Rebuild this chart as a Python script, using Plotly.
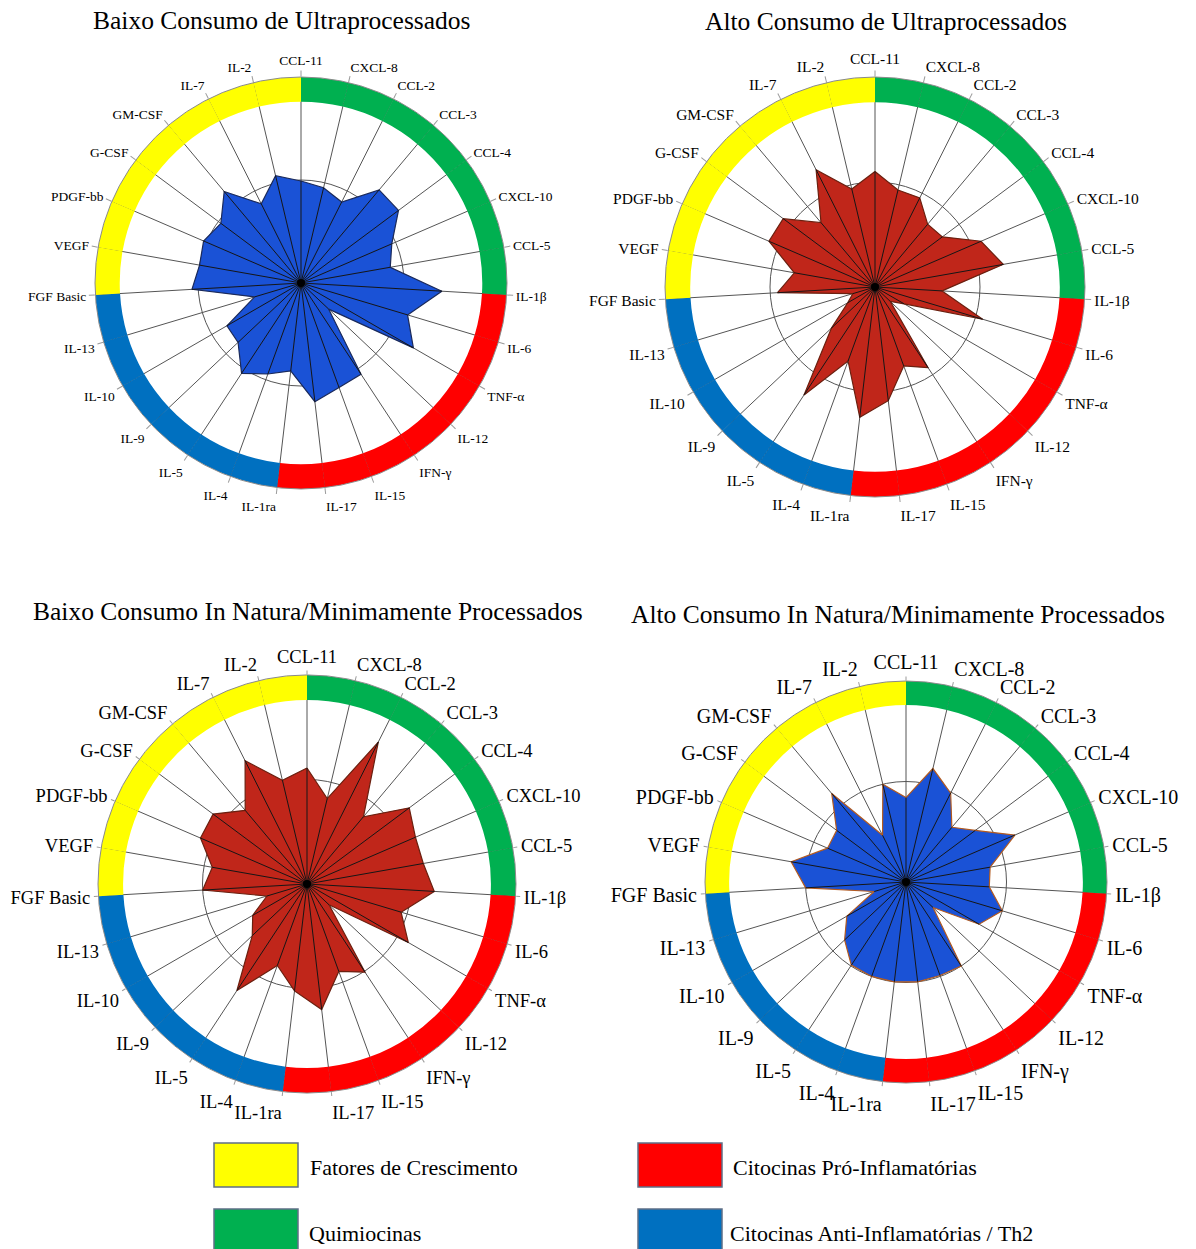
import plotly.graph_objects as go

W, H = 1196, 1249

# Cytokine / chemokine panel, clockwise from the top
labels = ["CCL-11", "CXCL-8", "CCL-2", "CCL-3", "CCL-4", "CXCL-10", "CCL-5",
          "IL-1β", "IL-6", "TNF-α", "IL-12", "IFN-γ", "IL-15", "IL-17",
          "IL-1ra", "IL-4", "IL-5", "IL-9", "IL-10", "IL-13",
          "FGF Basic", "VEGF", "PDGF-bb", "G-CSF", "GM-CSF", "IL-7", "IL-2"]

# functional group of each marker (sets the colour of the outer ring)
groups = (["Quimiocinas"] * 7 + ["Citocinas Pró-Inflamatórias"] * 7 +
          ["Citocinas Anti-Inflamatórias / Th2"] * 6 + ["Fatores de Crescimento"] * 7)

# relative levels per consumption group
baixo_ultra = [0.99, 0.95, 0.88, 1.18, 1.18, 0.96, 0.88, 1.37, 1.08, 1.26, 0.37, 1.06, 1.08, 1.16,
               0.86, 0.94, 1.05, 0.84, 0.83, 0.47, 1.06, 1.00, 1.03, 0.97, 1.16, 0.86, 1.07]
alto_ultra = [1.10, 0.95, 0.95, 0.78, 0.80, 1.10, 1.24, 0.64, 1.07, 0.32, 0.20, 0.92, 0.80, 1.09,
              1.25, 0.75, 1.23, 0.57, 0.30, 0.22, 0.93, 0.78, 1.10, 1.09, 0.80, 1.25, 0.96]
baixo_natura = [1.11, 0.84, 1.52, 0.84, 1.22, 1.13, 1.13, 1.22, 0.94, 1.12, 0.29, 1.01, 0.89, 1.21,
                1.03, 0.83, 1.22, 0.72, 0.60, 0.40, 1.00, 0.92, 1.11, 1.12, 0.92, 1.32, 1.02]
alto_natura = [0.84, 1.16, 0.99, 0.71, 0.86, 1.18, 0.85, 0.83, 1.00, 0.84, 0.37, 1.00, 0.99, 1.00,
               1.00, 1.00, 0.99, 0.84, 0.68, 0.33, 1.00, 1.16, 0.85, 0.86, 1.15, 0.52, 1.00]

group_colors = {
    "Fatores de Crescimento": "#FFFF00",
    "Quimiocinas": "#00B050",
    "Citocinas Pró-Inflamatórias": "#FF0000",
    "Citocinas Anti-Inflamatórias / Th2": "#0070C0",
}
legend_order = ["Fatores de Crescimento", "Citocinas Pró-Inflamatórias",
                "Quimiocinas", "Citocinas Anti-Inflamatórias / Th2"]

n = len(labels)
step = 360.0 / n
angles = [i * step for i in range(n)]
R_MAX = 2.0
RING_IN = 1.76
SERIF = "Liberation Serif, Times New Roman, serif"

# panel settings: title, values, fill, outline, centre (px), radius (px), label size, tick length
panels = [
    dict(title="Baixo Consumo de Ultraprocessados", vals=baixo_ultra, fill="#1A52D6",
         edge="#1b2a5a", cx=301, cy=283, R=206, fs=13.5, tl=6, tx=281, ty=21),
    dict(title="Alto Consumo de Ultraprocessados", vals=alto_ultra, fill="#C0261A",
         edge="#6b2010", cx=875, cy=287, R=210, fs=15.5, tl=6, tx=886, ty=22),
    dict(title="Baixo Consumo In Natura/Minimamente Processados", vals=baixo_natura, fill="#C0261A",
         edge="#6b2010", cx=307, cy=884, R=209, fs=18.5, tl=4, tx=308, ty=611),
    dict(title="Alto Consumo In Natura/Minimamente Processados", vals=alto_natura, fill="#1A52D6",
         edge="#B35A1F", cx=906, cy=882, R=201, fs=20, tl=4, tx=898, ty=614),
]

fig = go.Figure()
layout = {}
annotations = []

for k, p in enumerate(panels):
    name = "polar" if k == 0 else f"polar{k + 1}"
    vals = p["vals"]

    # coloured outer ring, one segment per marker starting at its spoke
    fig.add_trace(go.Barpolar(
        r=[R_MAX - RING_IN] * n, base=[RING_IN] * n,
        theta=[a + step / 2 for a in angles], width=[step] * n,
        marker=dict(color=[group_colors[g] for g in groups], line=dict(width=0)),
        subplot=name, showlegend=False, hoverinfo="skip"))

    # filled profile
    fig.add_trace(go.Scatterpolar(
        r=vals + [vals[0]], theta=angles + [angles[0]],
        mode="lines", fill="toself", fillcolor=p["fill"],
        line=dict(color=p["edge"], width=1.2),
        subplot=name, showlegend=False))

    # spokes drawn over the fill
    sr, st = [], []
    for a, v in zip(angles, vals):
        sr += [0, v, None]
        st += [a, a, None]
    fig.add_trace(go.Scatterpolar(
        r=sr, theta=st, mode="lines", line=dict(color="#161616", width=1),
        subplot=name, showlegend=False, hoverinfo="skip"))

    # hub
    fig.add_trace(go.Scatterpolar(
        r=[0], theta=[0], mode="markers", marker=dict(color="black", size=8),
        subplot=name, showlegend=False, hoverinfo="skip"))

    cx, cy, R = p["cx"], p["cy"], p["R"]
    layout[name] = dict(
        domain=dict(x=[(cx - R) / W, (cx + R) / W], y=[1 - (cy + R) / H, 1 - (cy - R) / H]),
        bgcolor="white",
        radialaxis=dict(range=[0, R_MAX], tickmode="array", tickvals=[1.0],
                        showticklabels=False, ticks="", showline=False,
                        gridcolor="#555555", gridwidth=1),
        angularaxis=dict(type="linear", rotation=90, direction="clockwise",
                         tickmode="array", tickvals=angles, ticktext=labels,
                         tickfont=dict(family=SERIF, size=p["fs"], color="black"),
                         ticks="outside", ticklen=p["tl"], tickcolor="#9a9a9a",
                         showgrid=True, gridcolor="#555555", gridwidth=1,
                         showline=True, linecolor="#8a8a8a", linewidth=1),
    )

    annotations.append(dict(text=p["title"], x=p["tx"] / W, y=1 - p["ty"] / H,
                            xref="paper", yref="paper", xanchor="center", yanchor="middle",
                            showarrow=False, font=dict(family=SERIF, size=25.5, color="black")))

# legend: coloured boxes with captions
shapes = []
legend_pos = {
    "Fatores de Crescimento": (214, 1143, 308),
    "Citocinas Pró-Inflamatórias": (638, 1143, 731),
    "Quimiocinas": (214, 1209, 307),
    "Citocinas Anti-Inflamatórias / Th2": (638, 1209, 728),
}
for g in legend_order:
    x0, y0, tx = legend_pos[g]
    shapes.append(dict(type="rect", xref="paper", yref="paper",
                       x0=x0 / W, x1=(x0 + 84) / W, y0=1 - (y0 + 44) / H, y1=1 - y0 / H,
                       fillcolor=group_colors[g], line=dict(color="#5f6f86", width=1.5)))
    annotations.append(dict(text=g, x=tx / W, y=1 - (y0 + 24) / H, xref="paper", yref="paper",
                            xanchor="left", yanchor="middle", showarrow=False,
                            font=dict(family=SERIF, size=22, color="black")))

fig.update_layout(
    width=W, height=H, margin=dict(l=0, r=0, t=0, b=0),
    paper_bgcolor="white", plot_bgcolor="white",
    annotations=annotations, shapes=shapes, showlegend=False,
    **layout,
)

fig.write_html("out.html")
